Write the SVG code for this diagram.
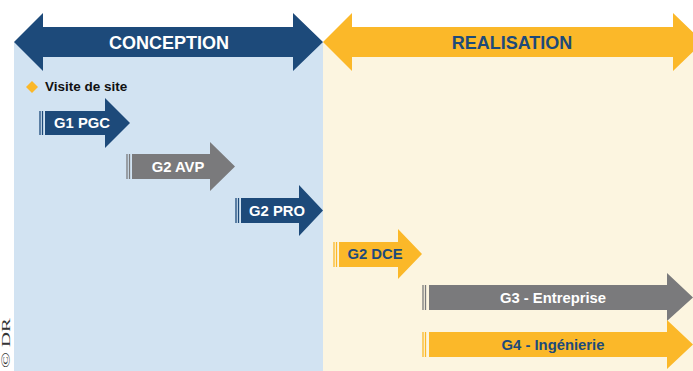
<svg xmlns="http://www.w3.org/2000/svg" width="693" height="371" viewBox="0 0 693 371">
<style>
text{font-family:"Liberation Sans",Arial,sans-serif;font-weight:bold;}
.hdr{font-size:18px;text-anchor:middle;}
.lbl{font-size:14.8px;text-anchor:middle;}
.w{fill:#ffffff;}
.n{fill:#1d4a7a;}
.navy{fill:#1d4a7a;}
.gray{fill:#7a7a7c;}
.yel{fill:#fbb829;}
.bar{stroke-width:1.3;}
.cr{font-family:"Liberation Serif","Times New Roman",serif;font-weight:normal;font-size:13px;fill:#333333;text-anchor:middle;}
</style>
<rect x="0" y="0" width="693" height="371" fill="#ffffff"/>
<rect x="14" y="42" width="309" height="329" fill="#d2e3f2"/>
<rect x="323" y="42" width="370" height="329" fill="#fcf5e0"/>
<g id="conception">
<polygon class="navy" points="14,42 43,13 43,27 293,27 293,13 323,42 293,71 293,57 43,57 43,71"/>
<text class="hdr w" x="169" y="49">CONCEPTION</text>
</g>
<g id="realisation">
<polygon class="yel" points="323,42 352,13 352,27 673,27 673,13 703,42 673,71 673,57 352,57 352,71"/>
<text class="hdr n" x="512" y="49">REALISATION</text>
</g>
<g id="visite">
<polygon fill="#fbb829" points="32,81 38,87 32,93 26,87"/>
<text x="45" y="91" font-size="13.5" fill="#111111">Visite de site</text>
</g>
<g id="g1pgc">
<line x1="40" y1="111" x2="40" y2="135" stroke="#1d4a7a" class="bar"/>
<line x1="42.5" y1="111" x2="42.5" y2="135" stroke="#1d4a7a" class="bar"/>
<polygon class="navy" points="45,111 105,111 105,98 130,123 105,148 105,135 45,135"/>
<text class="lbl w" x="82" y="128">G1 PGC</text>
</g>
<g id="g2avp">
<line x1="127" y1="154" x2="127" y2="179" stroke="#7a7a7c" class="bar"/>
<line x1="129.5" y1="154" x2="129.5" y2="179" stroke="#7a7a7c" class="bar"/>
<polygon class="gray" points="132,154 210,154 210,142 235,166.5 210,191 210,179 132,179"/>
<text class="lbl w" x="178" y="172">G2 AVP</text>
</g>
<g id="g2pro">
<line x1="236" y1="198" x2="236" y2="223" stroke="#1d4a7a" class="bar"/>
<line x1="238.5" y1="198" x2="238.5" y2="223" stroke="#1d4a7a" class="bar"/>
<polygon class="navy" points="241,198 299,198 299,185 323,210.5 299,236 299,223 241,223"/>
<text class="lbl w" x="277" y="216">G2 PRO</text>
</g>
<g id="g2dce">
<line x1="334" y1="242" x2="334" y2="267" stroke="#fbb829" class="bar"/>
<line x1="336.5" y1="242" x2="336.5" y2="267" stroke="#fbb829" class="bar"/>
<polygon class="yel" points="339,242 398,242 398,229 422,254 398,279 398,267 339,267"/>
<text class="lbl n" x="375" y="259">G2 DCE</text>
</g>
<g id="g3">
<line x1="423" y1="285" x2="423" y2="310" stroke="#7a7a7c" class="bar"/>
<line x1="425.5" y1="285" x2="425.5" y2="310" stroke="#7a7a7c" class="bar"/>
<polygon class="gray" points="429,285 667,285 667,273 693,297.5 667,321 667,310 429,310"/>
<text class="lbl w" x="553" y="303">G3 - Entreprise</text>
</g>
<g id="g4">
<line x1="423" y1="332" x2="423" y2="357" stroke="#fbb829" class="bar"/>
<line x1="425.5" y1="332" x2="425.5" y2="357" stroke="#fbb829" class="bar"/>
<polygon class="yel" points="429,332 667,332 667,320 693,344.5 667,369 667,357 429,357"/>
<text class="lbl n" x="553" y="350">G4 - Ingénierie</text>
</g>
<g id="connectors"></g>
<text class="cr" x="0" y="0" transform="translate(10,343) rotate(-90) scale(1.6,1)">© DR</text>
</svg>
